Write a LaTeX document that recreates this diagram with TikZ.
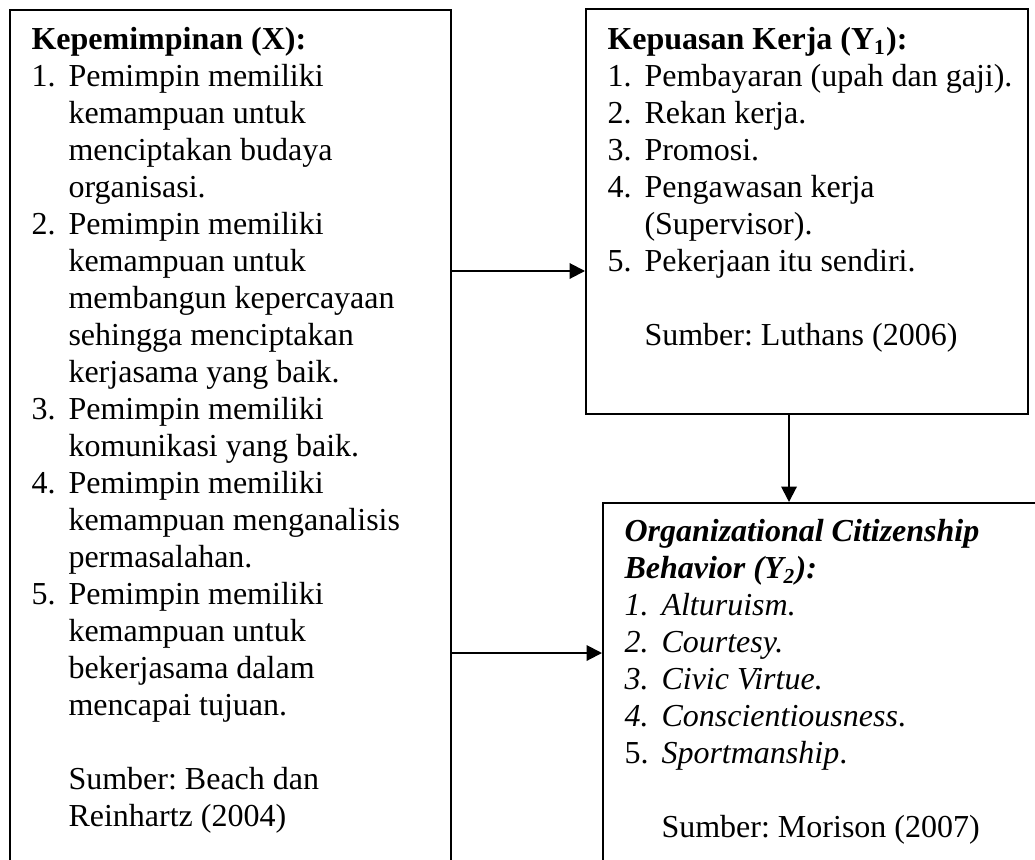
\documentclass[tikz,border=0pt]{standalone}
\usepackage{fontspec}
\setmainfont{Liberation Serif}
\usepackage{tikz}
\usetikzlibrary{arrows.meta}
\usetikzlibrary{fit,calc}
\frenchspacing

\newcommand{\nr}[1]{\makebox[13.875pt][l]{#1}}
\newcommand{\ind}{\hspace*{13.875pt}}

\tikzstyle{box} = [rectangle, draw, line width=0.75pt, inner sep=0pt]
\tikzstyle{txt} = [anchor=north west, inner sep=0pt, align=left,
    font=\fontsize{12}{13.875}\selectfont]
\tikzstyle{line} = [draw, line width=0.75pt, -{Triangle[length=5.8pt,width=5.8pt]}]

\begin{document}
\begin{tikzpicture}[x=0.375pt,y=-0.375pt]
\useasboundingbox (0,0) rectangle (1035,859);
\clip (0,0) rectangle (1035,859);

% the three boxes
\node [box, fit={(10,10) (451,900)}] (lead) {};
\node [box, fit={(586,9) (1028,414)}] (sat) {};
\node [box, fit={(603,503) (1045,900)}] (ocb) {};

\node [txt] (leadtext) at ([shift={(22,14)}]lead.north west) {\strut\textbf{Kepemimpinan (X):}\\
\nr{1.}Pemimpin memiliki\\
\ind kemampuan untuk\\
\ind menciptakan budaya\\
\ind organisasi.\\
\nr{2.}Pemimpin memiliki\\
\ind kemampuan untuk\\
\ind membangun kepercayaan\\
\ind sehingga menciptakan\\
\ind kerjasama yang baik.\\
\nr{3.}Pemimpin memiliki\\
\ind komunikasi yang baik.\\
\nr{4.}Pemimpin memiliki\\
\ind kemampuan menganalisis\\
\ind permasalahan.\\
\nr{5.}Pemimpin memiliki\\
\ind kemampuan untuk\\
\ind bekerjasama dalam\\
\ind mencapai tujuan.\\[13.875pt]
\ind Sumber: Beach dan\\
\ind Reinhartz (2004)};

\node [txt] (sattext) at ([shift={(22,15)}]sat.north west) {\strut\textbf{Kepuasan Kerja (Y\textsubscript{1}):}\\
\nr{1.}Pembayaran (upah dan gaji).\\
\nr{2.}Rekan kerja.\\
\nr{3.}Promosi.\\
\nr{4.}Pengawasan kerja\\
\ind (Supervisor).\\
\nr{5.}Pekerjaan itu sendiri.\\[13.875pt]
\ind Sumber: Luthans (2006)};

\node [txt] (ocbtext) at ([shift={(22,13)}]ocb.north west) {\strut\textbf{\textit{Organizational Citizenship}}\\
\textbf{\textit{Behavior (Y\textsubscript{2}):}}\\
\nr{\textit{1.}}\textit{Alturuism.}\\
\nr{\textit{2.}}\textit{Courtesy.}\\
\nr{\textit{3.}}\textit{Civic Virtue.}\\
\nr{\textit{4.}}\textit{Conscientiousness}.\\
\nr{5.}\textit{Sportmanship}.\\[13.875pt]
\ind Sumber: Morison (2007)};

% arrows
\coordinate (satin) at ($(sat.north west)+(0,263)$);
\coordinate (ocbin) at ($(ocb.north west)+(0,151)$);
\coordinate (satout) at ($(sat.south west)+(204,0)$);

\draw[line] (lead.east |- satin) -- (satin);
\draw[line] (lead.east |- ocbin) -- (ocbin);
\draw[line] (satout) -- (satout |- ocb.north);

\end{tikzpicture}
\end{document}
